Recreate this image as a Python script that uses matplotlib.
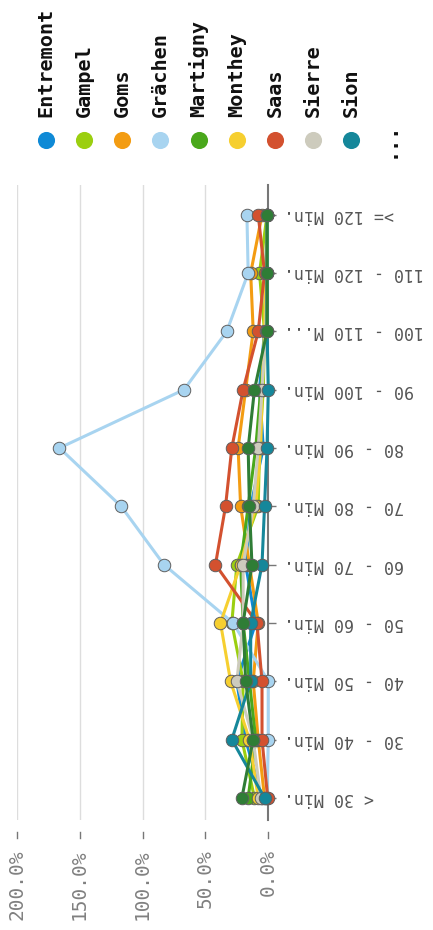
import matplotlib
matplotlib.use("Agg")
import matplotlib.pyplot as plt
from matplotlib.lines import Line2D

categories = ["< 30 Min.", "30 - 40 Min.", "40 - 50 Min.", "50 - 60 Min.", "60 - 70 Min.",
              "70 - 80 Min.", "80 - 90 Min.", "90 - 100 Min.", "100 - 110 M...",
              "110 - 120 Min.", ">= 120 Min."]

series_names = ["Entremont", "Gampel", "Goms", "Grächen", "Martigny", "Monthey",
                "Saas", "Sierre", "Sion", "Visp"]
series_colors = ["#0f8ad6", "#9bcf10", "#f39c12", "#a8d4f0", "#4aa81c", "#f6cf30",
                 "#d3512f", "#cdcbbd", "#15879a", "#2f7d36"]
in_legend = [True, True, True, True, True, True, True, True, True, False]

entremont = [5, 18, 25, 10, 18, 14, 4, 7, 3, 2, 1]
gampel = [11, 21, 20, 29, 25, 8, 7, 4, 3, 7, 1]
goms = [3, 8, 12, 8, 15, 22, 24, 18, 12, 14, 5]
graechen = [1, 0, 0, 28, 83, 117, 166, 67, 33, 16, 17]
martigny = [16, 10, 15, 20, 22, 16, 10, 6, 2, 1, 1]
monthey = [8, 15, 30, 38, 22, 10, 6, 5, 3, 2, 1]
saas = [0.5, 5, 5, 9, 42, 34, 29, 20, 8, 3, 8]
sierre = [6, 12, 25, 20, 20, 12, 8, 5, 2, 1, 1]
sion = [3, 29, 14, 14, 5, 3, 1, 0, 1, 1, 1]
visp = [21, 12, 18, 20, 13, 15, 16, 11, 1, 1, 1]

series_values = [entremont, gampel, goms, graechen, martigny, monthey, saas, sierre, sion, visp]
value_ticks = [0, 50, 100, 150, 200]
value_tick_labels = ["0.0%", "50.0%", "100.0%", "150.0%", "200.0%"]

MONO = "DejaVu Sans Mono"

W, H = 433, 930
fig = plt.figure(figsize=(W / 100, H / 100), dpi=100)

# plot area in pixel coordinates
x_left, x_right = 16.7, 268.3
y_top, y_bot = 185, 820
ax = fig.add_axes([x_left / W, 1 - y_bot / H, (x_right - x_left) / W, (y_bot - y_top) / H])
ax.set_xlim(200, 0)
ax.set_ylim(-0.38, 10.51)

for v in value_ticks[1:]:
    ax.axvline(v, color="#dddddd", lw=1, zorder=0)

for sp in ["top", "bottom", "left"]:
    ax.spines[sp].set_visible(False)
ax.spines["right"].set_color("#777777")
ax.spines["right"].set_linewidth(1.5)

ypos = list(range(len(categories)))
for vals, col in zip(series_values, series_colors):
    ax.plot(vals, ypos, color=col, lw=2.2, marker="o", ms=9, mfc=col,
            mec="#5f5f5f", mew=0.7, clip_on=False, zorder=3)

ax.set_xticks([])
ax.yaxis.tick_right()
ax.set_yticks(ypos)
ax.set_yticklabels([])
ax.tick_params(axis="y", direction="out", length=6, color="#777777", width=1)

# category labels (upside down)
for i, lab in enumerate(categories):
    ax.text(1.064, i, lab, transform=ax.get_yaxis_transform(), rotation=180,
            rotation_mode="anchor", ha="right", va="center", fontsize=12,
            family=MONO, color="#555555")

# value ticks and labels
xt = ax.get_xaxis_transform()
for v, lab in zip(value_ticks, value_tick_labels):
    ax.plot([v, v], [-0.019, -0.028], transform=xt, color="#777777", lw=1, clip_on=False)
    ax.text(v, -0.046, lab, transform=xt, rotation=90, ha="center", va="top",
            fontsize=14, family=MONO, color="#808080")

# legend
lax = fig.add_axes([0, 0, 1, 1])
lax.set_xlim(0, W)
lax.set_ylim(H, 0)
lax.axis("off")
lx0, ldx = 45.7, 38.2
k = 0
for name, col, show in zip(series_names, series_colors, in_legend):
    if not show:
        continue
    x = lx0 + k * ldx
    lax.add_line(Line2D([x], [140], marker="o", ms=11.3, mfc=col, mec=col, ls="none"))
    lax.text(x, 117, name, rotation=90, ha="center", va="bottom", fontsize=14.5,
             fontweight="bold", family=MONO, color="#111111")
    k += 1
lax.text(lx0 + k * ldx, 140, "...", rotation=90, ha="center", va="center", fontsize=14.5,
         fontweight="bold", family=MONO, color="#111111")

fig.savefig("out.png", dpi=100)
